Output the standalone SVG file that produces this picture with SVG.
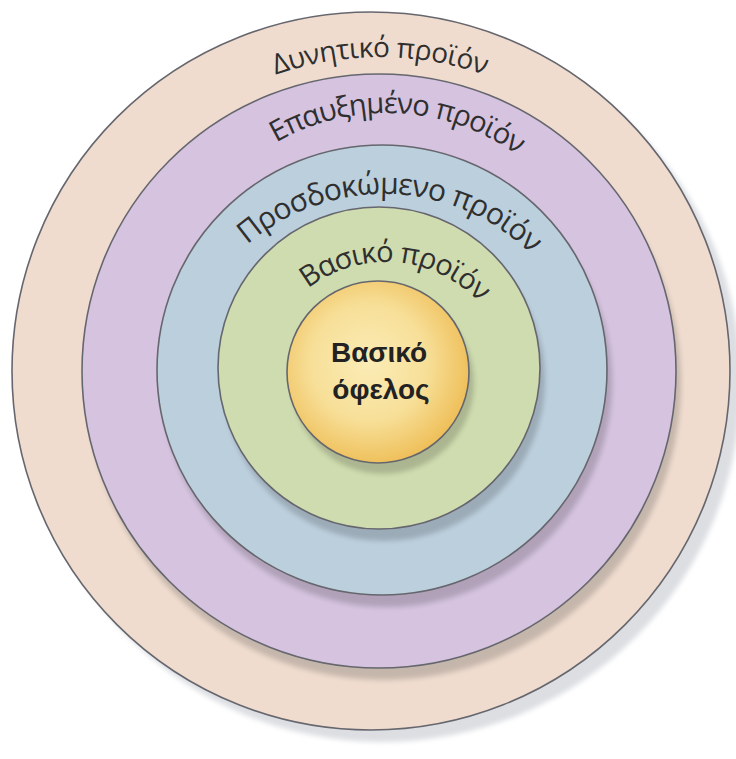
<svg xmlns="http://www.w3.org/2000/svg" width="736" height="759" viewBox="0 0 736 759">
  <style>
    .ring { stroke: #66666e; stroke-width: 1.6; }
    .shadow { fill: #000; opacity: 0.17; filter: url(#blur); }
    .arc { font-family: "Open Sans", "Noto Sans", "DejaVu Sans", sans-serif; font-weight: 500; fill: #2f2f2f; }
    .core { font-family: "Liberation Sans", Arial, sans-serif; font-weight: bold; font-size: 28px; fill: #222222; text-anchor: middle; }
  </style>
  <defs>
    <filter id="blur" x="-10%" y="-10%" width="120%" height="120%">
      <feGaussianBlur stdDeviation="2.5"/>
    </filter>
    <radialGradient id="gold" cx="45%" cy="45%" r="58%">
      <stop offset="0" stop-color="#fbecb6"/>
      <stop offset="0.55" stop-color="#f7df98"/>
      <stop offset="1" stop-color="#eebd55"/>
    </radialGradient>
    <path id="p1" d="M 65 372 A 315 315 0 0 1 695 372"/>
    <path id="p2" d="M 164 336 A 223 223 0 0 1 610 336" transform="rotate(2.8 387 336)"/>
    <path id="p3" d="M 174 404 A 210 210 0 0 1 594 404" transform="rotate(1.8 384 404)"/>
    <path id="p4" d="M 258 390 A 128 128 0 0 1 514 390" transform="rotate(4.5 386 390)"/>
  </defs>
  <rect width="736" height="759" fill="#ffffff"/>

  <g id="potential-product">
    <circle cx="382" cy="383" r="359" fill="#dcdee2" filter="url(#blur)"/>
    <circle class="ring" cx="371" cy="371" r="359" fill="#efdccf"/>
    <text class="arc" font-size="28" letter-spacing="-0.5"><textPath href="#p1" startOffset="50%" text-anchor="middle">Δυνητικό προϊόν</textPath></text>
  </g>

  <g id="augmented-product">
    <circle class="shadow" cx="384" cy="383" r="297"/>
    <circle class="ring" cx="379" cy="371" r="297" fill="#d5c3df"/>
    <text class="arc" font-size="29" letter-spacing="-1"><textPath href="#p2" startOffset="50%" text-anchor="middle">Επαυξημένο προϊόν</textPath></text>
  </g>

  <g id="expected-product">
    <circle class="shadow" cx="387" cy="382" r="225"/>
    <circle class="ring" cx="382" cy="370" r="225" fill="#bccfdd"/>
    <text class="arc" font-size="30" letter-spacing="-0.8"><textPath href="#p3" startOffset="50%" text-anchor="middle">Προσδοκώμενο προϊόν</textPath></text>
  </g>

  <g id="basic-product">
    <circle class="shadow" cx="384" cy="380" r="161"/>
    <circle class="ring" cx="379" cy="368" r="161" fill="#cfdcaf"/>
    <text class="arc" font-size="29" letter-spacing="-1"><textPath href="#p4" startOffset="50%" text-anchor="middle">Βασικό προϊόν</textPath></text>
  </g>

  <g id="core-benefit">
    <circle class="shadow" cx="383" cy="383" r="91"/>
    <circle class="ring" cx="378" cy="372" r="91" fill="url(#gold)"/>
    <text class="core" x="379" y="362">Βασικό</text>
    <text class="core" x="381" y="399">όφελος</text>
  </g>
</svg>
